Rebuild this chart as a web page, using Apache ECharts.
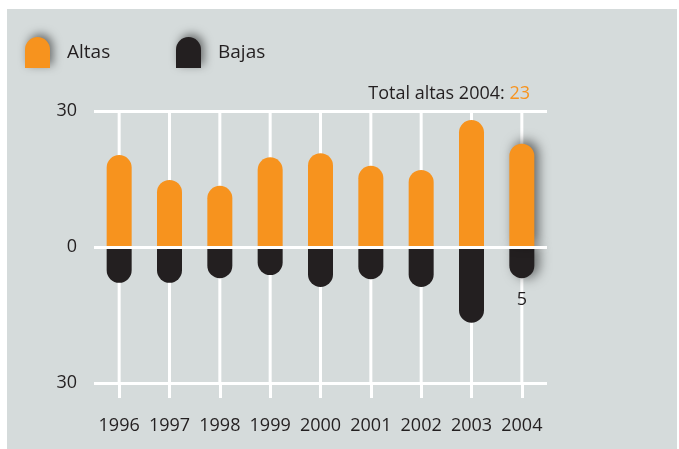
<!DOCTYPE html>
<html>
<head>
<meta charset="utf-8">
<script src="https://cdn.jsdelivr.net/npm/echarts@6/dist/echarts.min.js"></script>
<style>
html,body{margin:0;padding:0;background:#ffffff;}
#chart{width:679px;height:449px;}
</style>
</head>
<body>
<div id="chart"></div>
<script>
// Data
const years = ['1996', '1997', '1998', '1999', '2000', '2001', '2002', '2003', '2004'];
const altas = [20.3, 14.8, 13.5, 19.8, 20.7, 17.9, 17.0, 28.0, 22.8];
const bajas = [-7.9, -7.9, -6.9, -6.2, -8.8, -7.1, -8.8, -16.7, -6.9];
const yTicks = [-30, 0, 30];
const totalLabel = 'Total altas 2004: ';
const totalValue = '23';
const bajasNote = '5';
const highlightIndex = 8;

const ORANGE = '#f7931e';
const BLACK = '#231f20';
const BG = '#d5dbdb';
const FONT = '"Open Sans", "Noto Sans", sans-serif';

const chart = echarts.init(document.getElementById('chart'), null, {renderer: 'canvas'});

const option = {
  animation: false,
  backgroundColor: 'transparent',
  graphic: [{
    type: 'rect', z: -100, silent: true,
    shape: {x: 7, y: 9, width: 670, height: 440},
    style: {fill: BG}
  }],
  title: {
    text: '{a|' + totalLabel + '}{b|' + totalValue + '}',
    right: 149, top: 85, padding: 0,
    textStyle: {
      fontWeight: 'normal',
      rich: {
        a: {fontFamily: FONT, fontSize: 18, color: BLACK, fontWeight: 'normal'},
        b: {fontFamily: FONT, fontSize: 18, color: ORANGE, fontWeight: 'normal'}
      }
    }
  },
  legend: [
    {
      data: ['Altas'], left: 25, top: 37, padding: 0,
      itemWidth: 25, itemHeight: 31,
      icon: 'path://M0,12.5A12.5,12.5,0,0,1,25,12.5L25,31L0,31Z',
      itemStyle: {shadowBlur: 10, shadowColor: 'rgba(0,0,0,0.5)', shadowOffsetX: 3, shadowOffsetY: -3},
      textStyle: {fontFamily: FONT, fontSize: 19, color: BLACK, padding: [7, 0, 0, 12]}
    },
    {
      data: ['Bajas'], left: 176, top: 37, padding: 0,
      itemWidth: 25, itemHeight: 31,
      icon: 'path://M0,12.5A12.5,12.5,0,0,1,25,12.5L25,31L0,31Z',
      itemStyle: {shadowBlur: 10, shadowColor: 'rgba(0,0,0,0.5)', shadowOffsetX: 3, shadowOffsetY: -3},
      textStyle: {fontFamily: FONT, fontSize: 19, color: BLACK, padding: [7, 0, 0, 12]}
    }
  ],
  grid: {left: 94, top: 111, width: 453, height: 272, containLabel: false},
  xAxis: {
    type: 'category',
    data: years,
    axisLine: {show: false, onZero: false},
    axisTick: {show: true, alignWithLabel: true, length: 15, lineStyle: {color: '#ffffff', width: 3}},
    axisLabel: {fontFamily: FONT, fontSize: 18, color: BLACK, margin: 34, interval: 0},
    splitLine: {show: false}
  },
  yAxis: {
    type: 'value',
    min: yTicks[0], max: yTicks[yTicks.length - 1], interval: 30,
    axisLine: {show: false},
    axisTick: {show: false},
    axisLabel: {fontFamily: FONT, fontSize: 18, color: BLACK, margin: 17,
      formatter: v => String(Math.abs(v))},
    splitLine: {lineStyle: {color: '#ffffff', width: 3}}
  },
  series: [
    {
      type: 'custom',
      name: 'grid-lines',
      silent: true,
      data: years.map((y, i) => i),
      renderItem: function (params, api) {
        const i = api.value(0);
        const p1 = api.coord([i, yTicks[yTicks.length - 1]]);
        const p2 = api.coord([i, yTicks[0]]);
        return {
          type: 'line',
          shape: {x1: p1[0], y1: p1[1], x2: p2[0], y2: p2[1]},
          style: {stroke: '#ffffff', lineWidth: 3}
        };
      },
      z: 1
    },
    {
      name: 'Bajas',
      type: 'bar',
      barWidth: 25,
      barGap: '-100%',
      color: BLACK,
      itemStyle: {color: BLACK, borderRadius: [0, 0, 12.5, 12.5]},
      data: bajas.map((v, i) => i === highlightIndex ? {
        value: v,
        itemStyle: {shadowBlur: 12, shadowColor: 'rgba(0,0,0,0.5)', shadowOffsetX: 5, shadowOffsetY: 0},
        label: {show: true, position: 'bottom', distance: 13, formatter: bajasNote,
          fontFamily: FONT, fontSize: 18, color: BLACK}
      } : v),
      z: 2
    },
    {
      name: 'Altas',
      type: 'bar',
      barWidth: 25,
      barGap: '-100%',
      color: ORANGE,
      itemStyle: {color: ORANGE, borderRadius: [12.5, 12.5, 0, 0]},
      data: altas.map((v, i) => i === highlightIndex ? {
        value: v,
        itemStyle: {shadowBlur: 12, shadowColor: 'rgba(0,0,0,0.55)', shadowOffsetX: 4, shadowOffsetY: -3}
      } : v),
      markLine: {
        silent: true, symbol: 'none',
        label: {show: false},
        lineStyle: {color: '#ffffff', width: 3, type: 'solid'},
        data: [{yAxis: 0}]
      },
      z: 3
    }
  ]
};
chart.setOption(option);
</script>
</body>
</html>
